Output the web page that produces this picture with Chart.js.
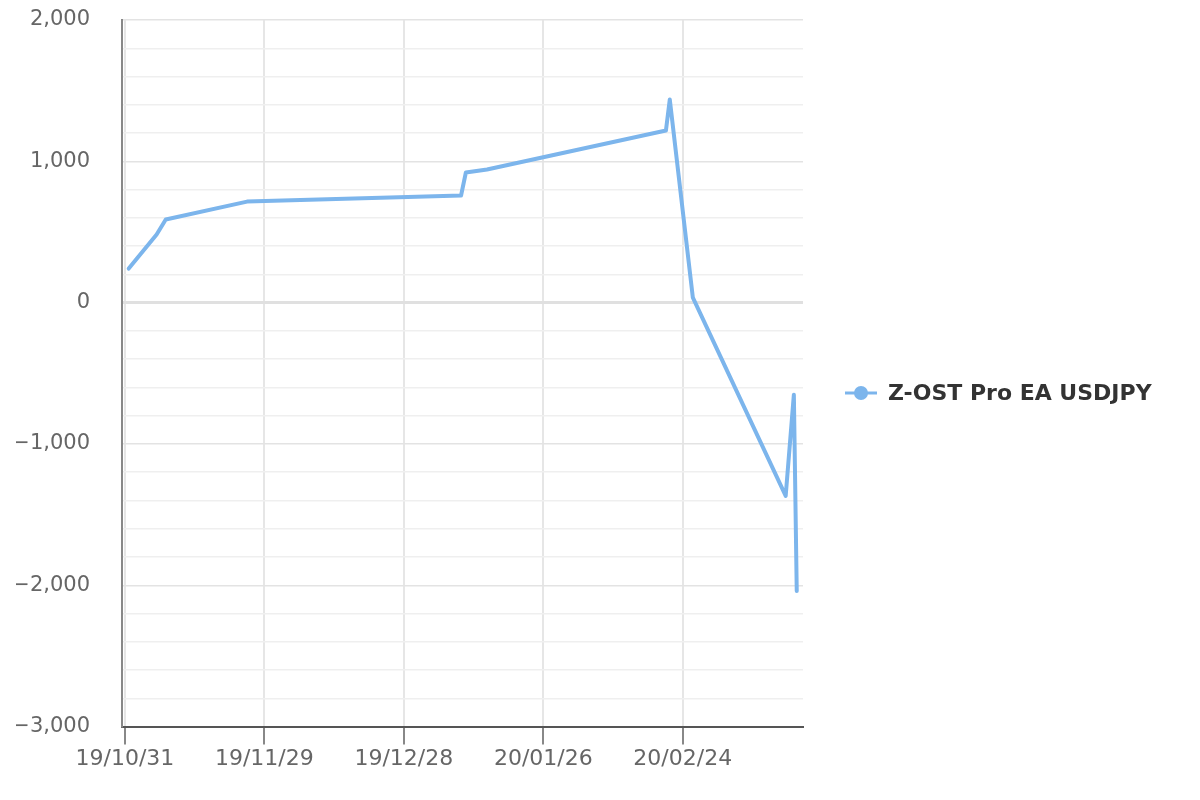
<!DOCTYPE html>
<html>
<head>
<meta charset="utf-8">
<script src="https://cdn.jsdelivr.net/npm/chart.js@4/dist/chart.umd.min.js"></script>
<style>
  body { margin: 0; background: #fff; }
  #wrap { width: 1200px; height: 800px; }
</style>
</head>
<body>
<div id="wrap"><canvas id="myChart"></canvas></div>
<script>
// days since 2019-10-31 for each balance point
var dayOffsets = [0.8, 6.6, 8.5, 25.4, 69.9, 70.9, 75.3, 112.5, 113.3, 118.1, 137.4, 139.1, 139.7];
var balance = [241, 482, 588, 715, 758, 921, 942, 1218, 1438, 35, -1367, -652, -2040];
var seriesName = "Z-OST Pro EA USDJPY";
var xTickDays = [0, 29, 58, 87, 116];
var xTickLabels = ["19/10/31", "19/11/29", "19/12/28", "20/01/26", "20/02/24"];

var lineColor = "#7cb5ec";
var fontFam = "'DejaVu Sans', sans-serif";

function fmt(v) {
  var s = Math.abs(v).toLocaleString("en-US");
  return v < 0 ? "\u2212" + s : s;
}

// legend on the right: line + dot + bold label
var sideLegend = {
  id: "sideLegend",
  afterDraw: function(c){
    var ctx = c.ctx, a = c.chartArea;
    var ds = c.data.datasets[0];
    var x = a.right + 42, y = 393;
    ctx.save();
    ctx.strokeStyle = ds.borderColor;
    ctx.lineWidth = 3;
    ctx.beginPath(); ctx.moveTo(x, y); ctx.lineTo(x + 32, y); ctx.stroke();
    ctx.fillStyle = ds.borderColor;
    ctx.beginPath(); ctx.arc(x + 16, y, 7, 0, Math.PI * 2); ctx.fill();
    ctx.fillStyle = "#333";
    ctx.font = "bold 22px " + fontFam;
    ctx.textBaseline = "middle";
    ctx.fillText(ds.label, x + 43, y + 1);
    ctx.restore();
  }
};

function chart(){
  var ctx = document.getElementById("myChart").getContext("2d");
  var points = dayOffsets.map(function(d, i){ return {x: d, y: balance[i]}; });
  var myChart = new Chart(ctx, {
  type: "line",
  data: {
      datasets: [{
      label: seriesName,
      data: points,
      borderColor: lineColor,
      backgroundColor: lineColor,
      borderWidth: 4,
      borderJoinStyle: "round",
      borderCapStyle: "round",
      pointRadius: 0,
      tension: 0
      }]
  },
  plugins: [sideLegend],
  options: {
      responsive: true,
      maintainAspectRatio: false,
      animation: false,
      layout: { padding: { left: 16, top: 20, right: 397, bottom: 27 } },
      plugins: {
          tooltip: { enabled: false },
          legend: { display: false }
      },
      scales: {
          x: {
              type: "linear",
              min: -0.6,
              max: 141,
              afterBuildTicks: function(scale){
                  scale.ticks = xTickDays.map(function(v){ return {value: v}; });
              },
              afterFit: function(scale){
                  scale.paddingLeft = 0;
                  scale.paddingRight = 0;
              },
              ticks: {
                  autoSkip: false,
                  maxRotation: 0,
                  padding: 1,
                  color: "#666",
                  font: { family: fontFam, size: 22 },
                  callback: function(v){
                      var i = xTickDays.indexOf(v);
                      return i >= 0 ? xTickLabels[i] : "";
                  }
              },
              grid: {
                  color: "#e6e6e6",
                  lineWidth: 2,
                  tickColor: "#888",
                  tickLength: 18
              },
              border: { color: "#555", width: 2 }
          },
          y: {
              min: -3000,
              max: 2000,
              afterFit: function(scale){
                  scale.width = 106;
                  scale.paddingTop = 0;
                  scale.paddingBottom = 0;
              },
              ticks: {
                  stepSize: 200,
                  autoSkip: false,
                  padding: 32,
                  color: "#666",
                  font: { family: fontFam, size: 21 },
                  callback: function(v){ return v % 1000 === 0 ? fmt(v) : ""; }
              },
              grid: {
                  drawTicks: false,
                  color: function(c){
                      var v = c.tick ? c.tick.value : 1;
                      if (v === 0) return "#e0e0e0";
                      return v % 1000 === 0 ? "#e3e3e3" : "#efefef";
                  },
                  lineWidth: function(c){
                      var v = c.tick ? c.tick.value : 1;
                      return v === 0 ? 3 : 1.5;
                  }
              },
              border: { color: "#888", width: 2 }
          }
      }
  }
  });
}
chart();
</script>
</body>
</html>
